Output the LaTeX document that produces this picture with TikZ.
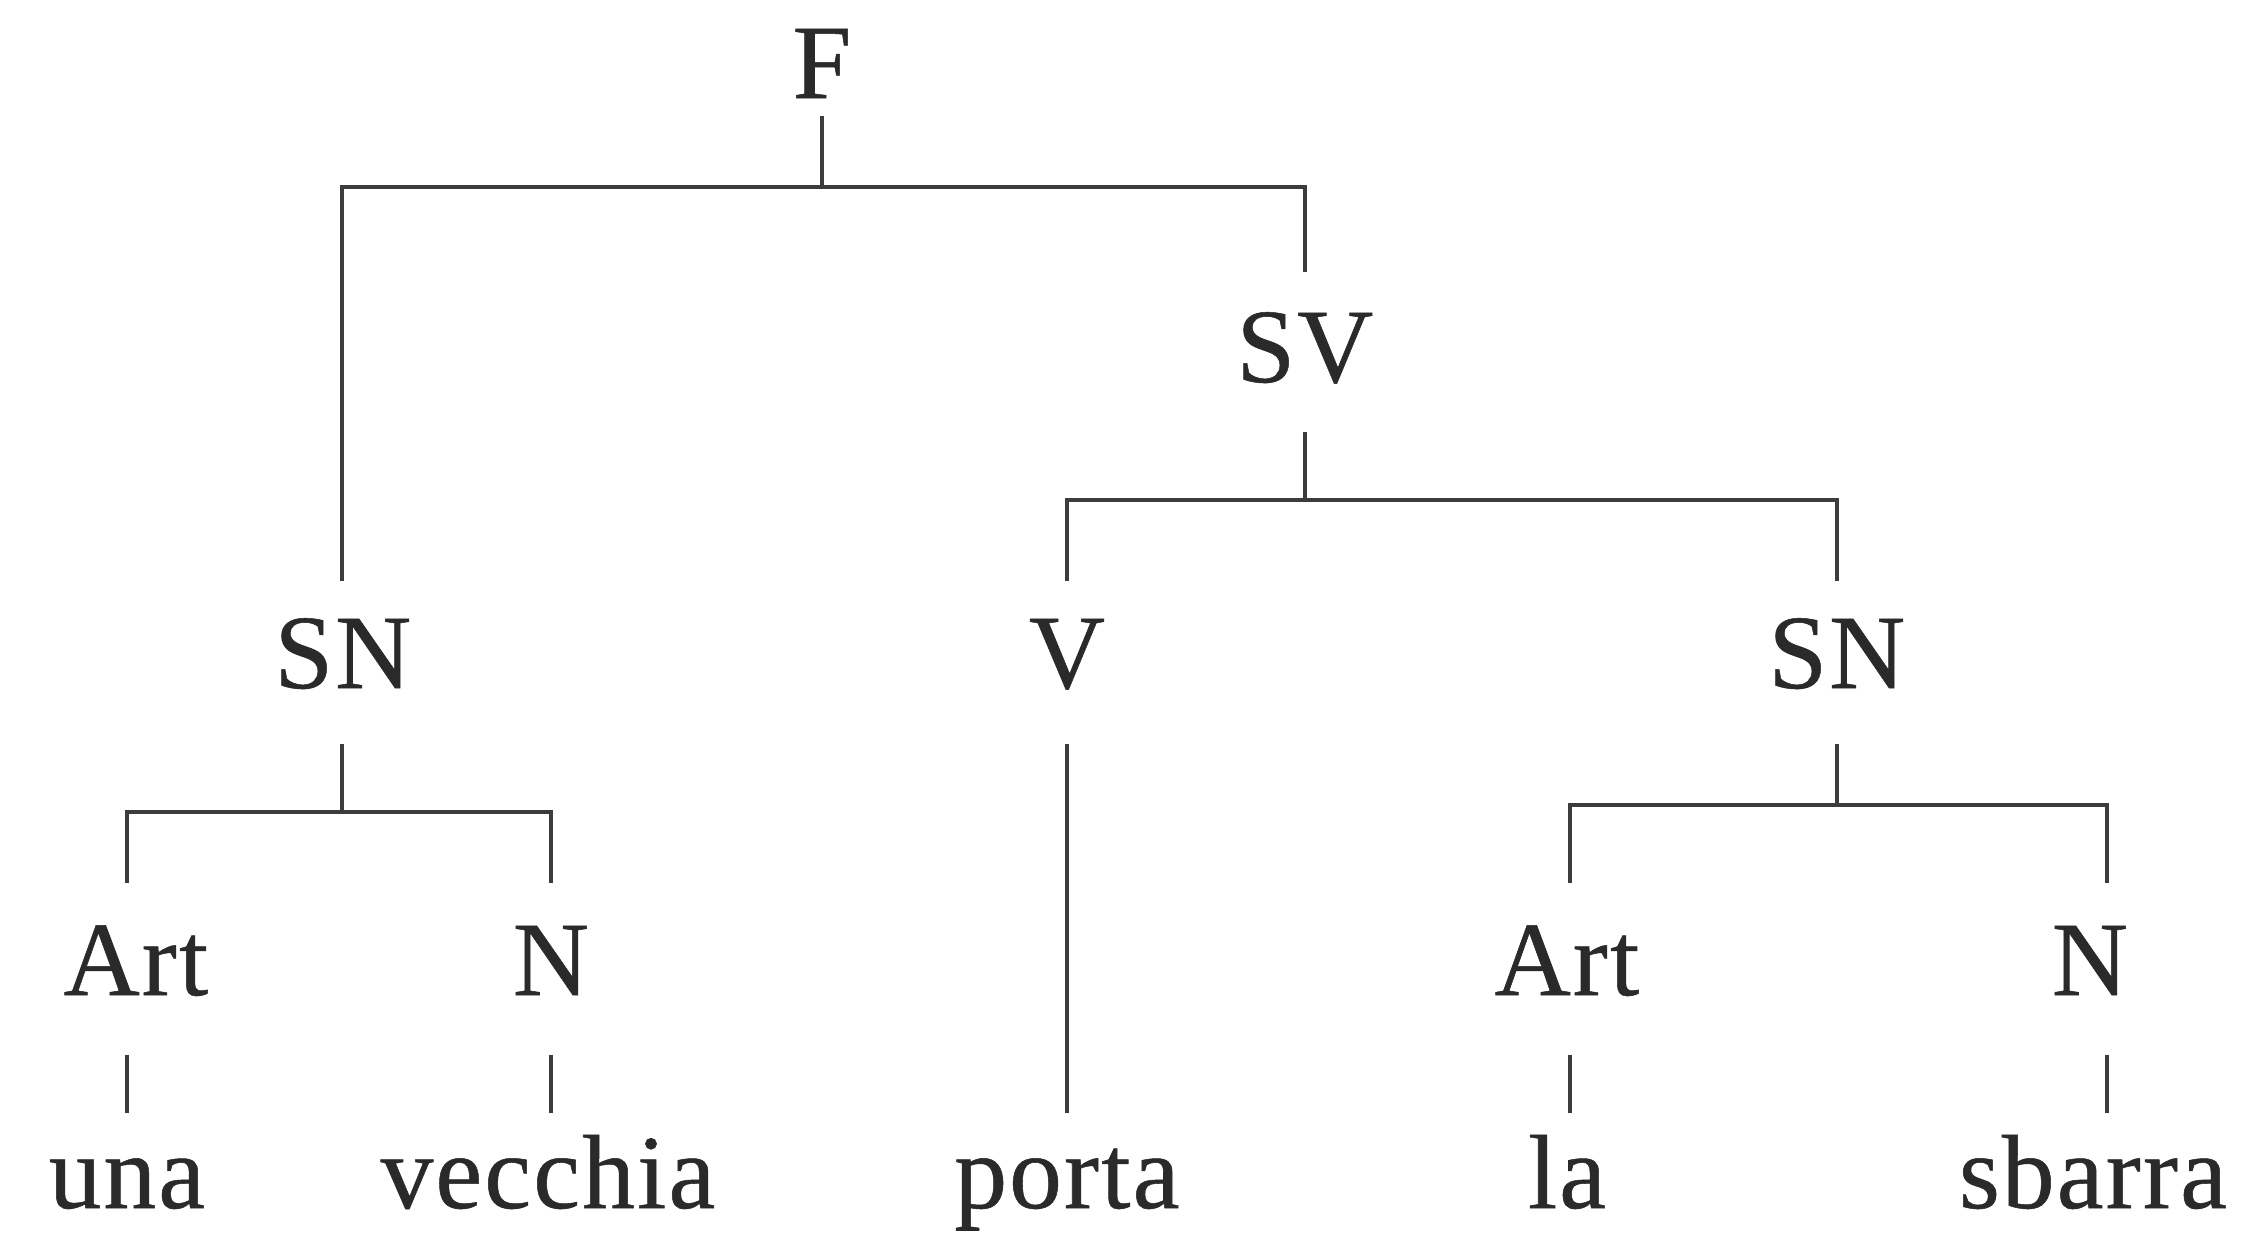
\documentclass[tikz,border=0pt]{standalone}
\usepackage{fontspec}
\setmainfont{Liberation Serif}[LetterSpace=2, FakeBold=0.5]
\definecolor{ink}{HTML}{2A2A2A}
\definecolor{rule}{HTML}{3C3C3C}
\tikzset{
  lbl/.style={anchor=base, inner sep=0pt, text height=0.70cm, text depth=0pt,
    text=ink, font=\fontsize{30}{36}\selectfont},
  edge/.style={draw=rule, line width=1.25pt, line join=miter}
}
\begin{document}
\begin{tikzpicture}[x=0.01cm, y=-0.01cm]
\useasboundingbox[fill=white] (0,0) rectangle (2254,1253);

% categories
\node[lbl] (F)    at (822,98)   {F};
\node[lbl] (SV)   at (1305,382) {SV};
\node[lbl] (SN1)  at (343,688)  {SN};
\node[lbl] (V)    at (1067,688) {V};
\node[lbl] (SN2)  at (1837,688) {SN};
\node[lbl] (Art1) at (136,995)  {Art};
\node[lbl] (N1)   at (551,995)  {N};
\node[lbl] (Art2) at (1567,995) {Art};
\node[lbl] (N2)   at (2090,995) {N};
% words
\node[lbl] (w1) at (127,1208)  {una};
\node[lbl] (w2) at (548,1208)  {vecchia};
\node[lbl] (w3) at (1067,1208) {porta};
\node[lbl] (w4) at (1567,1208) {la};
\node[lbl] (w5) at (2093,1208) {sbarra};

% bar corners
\coordinate (b1l) at (342,187);  \coordinate (b1r) at (1305,187);
\coordinate (b2l) at (1067,500); \coordinate (b2r) at (1837,500);
\coordinate (b3l) at (127,812);  \coordinate (b3r) at (551,812);
\coordinate (b4l) at (1570,805); \coordinate (b4r) at (2107,805);

% F -> SN SV
\draw[edge, shorten <=0.17cm] (F.south) -- (F.south |- b1l);
\draw[edge, shorten <=0.36cm, shorten >=0.39cm]
  (b1l |- SN1.north) -- (b1l) -- (b1r) -- (b1r |- SV.north);

% SV -> V SN
\draw[edge, shorten <=0.49cm] (SV.south) -- (SV.south |- b2l);
\draw[edge, shorten <=0.36cm, shorten >=0.36cm]
  (b2l |- V.north) -- (b2l) -- (b2r) -- (b2r |- SN2.north);

% SN -> Art N (left)
\draw[edge, shorten <=0.55cm] (SN1.south -| b1l) -- (b1l |- b3l);
\draw[edge, shorten <=0.41cm, shorten >=0.41cm]
  (b3l |- Art1.north) -- (b3l) -- (b3r) -- (b3r |- N1.north);

% SN -> Art N (right)
\draw[edge, shorten <=0.55cm] (SN2.south) -- (SN2.south |- b4l);
\draw[edge, shorten <=0.41cm, shorten >=0.41cm]
  (b4l |- Art2.north) -- (b4l) -- (b4r) -- (b4r |- N2.north);

% terminals
\draw[edge, shorten <=0.59cm, shorten >=0.24cm] (Art1.south -| b3l) -- (w1.north -| b3l);
\draw[edge, shorten <=0.59cm, shorten >=0.24cm] (N1.south -| b3r) -- (w2.north -| b3r);
\draw[edge, shorten <=0.55cm, shorten >=0.24cm] (V.south) -- (w3.north);
\draw[edge, shorten <=0.59cm, shorten >=0.24cm] (Art2.south -| b4l) -- (w4.north -| b4l);
\draw[edge, shorten <=0.59cm, shorten >=0.24cm] (N2.south -| b4r) -- (w5.north -| b4r);
\end{tikzpicture}
\end{document}
